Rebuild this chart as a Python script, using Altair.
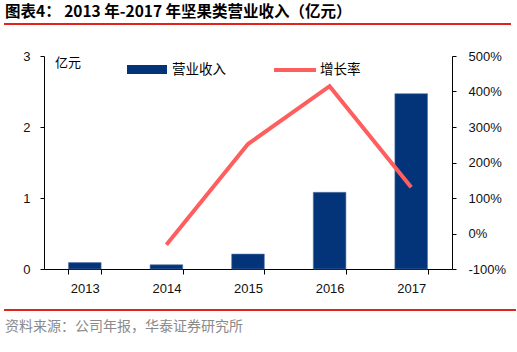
import altair as alt
import pandas as pd

years = ["2013", "2014", "2015", "2016", "2017"]
revenue = [0.09, 0.06, 0.21, 1.08, 2.47]
growth_years = ["2014", "2015", "2016", "2017"]
growth = [-32, 252, 415, 130]

title_text = "图表4：  2013 年-2017 年坚果类营业收入（亿元）"
source_text = "资料来源：公司年报，华泰证券研究所"
unit_text = "亿元"
legend_bar = "营业收入"
legend_line = "增长率"

BAR = "#033479"
LINE = "#FF5E5E"
RED = "#E2231A"
LAT = "Liberation Sans"
CJK = "Noto Sans CJK SC"

bars_df = pd.DataFrame({"year": years, "rev": revenue})
line_df = pd.DataFrame({"year": growth_years, "g": growth})
one = pd.DataFrame({"a": [0]})

xenc = alt.X("year:N", title=None, sort=years,
             scale=alt.Scale(paddingInner=0.6, paddingOuter=0.3),
             axis=alt.Axis(labelAngle=0, tickBand="extent", labelFont=LAT, labelFontSize=13,
                           labelColor="#111", domainColor="#000", tickColor="#000",
                           tickSize=5, labelPadding=8, grid=False))

bars = alt.Chart(bars_df).mark_bar(color=BAR, stroke="#5a77a6", strokeWidth=0.6).encode(
    x=xenc,
    y=alt.Y("rev:Q", title=None, scale=alt.Scale(domain=[0, 3], nice=False),
            axis=alt.Axis(values=[0, 1, 2, 3], format="d", labelFont=LAT, labelFontSize=13,
                          labelColor="#111", domainColor="#000", tickColor="#000", tickSize=4,
                          labelPadding=10, grid=False)),
)

line = alt.Chart(line_df).mark_line(color=LINE, strokeWidth=4).encode(
    x=alt.X("year:N", sort=years),
    y=alt.Y("g:Q", title=None, scale=alt.Scale(domain=[-100, 500], nice=False),
            axis=alt.Axis(orient="right", values=[-100, 0, 100, 200, 300, 400, 500],
                          labelExpr="datum.value + '%'", labelFont=LAT, labelFontSize=13,
                          labelColor="#111", domainColor="#000", tickColor="#000", tickSize=4,
                          labelPadding=12, grid=False)),
)

main = alt.layer(bars, line).resolve_scale(y="independent")

def txt(s, x, y, size, color="#000", weight="normal", font=CJK, baseline="middle"):
    return alt.Chart(one).mark_text(align="left", baseline=baseline, fontSize=size, color=color,
                                    fontWeight=weight, font=font).encode(
        x=alt.value(x), y=alt.value(y), text=alt.value(s))

def rule(x1, x2, y, color, w):
    return alt.Chart(one).mark_rule(color=color, strokeWidth=w).encode(
        x=alt.value(x1), x2=alt.value(x2), y=alt.value(y))

legend_rect = alt.Chart(one).mark_rect(color=BAR).encode(
    x=alt.value(83), x2=alt.value(123), y=alt.value(9), y2=alt.value(18))

deco = [
    txt(title_text, -39, -44, 15.5, weight="bold"),
    rule(-40, 467, -32, RED, 2),
    rule(-40, 472, 254, RED, 2),
    txt(source_text, -39, 271, 14, color="#8a8a8a"),
    txt(unit_text, 11, 7, 13),
    legend_rect,
    txt(legend_bar, 128, 14, 13.5),
    rule(230, 272, 14, LINE, 4),
    txt(legend_line, 276, 14, 13.5),
]

chart = alt.layer(main, *deco).properties(
    width=408, height=213,
    autosize=alt.AutoSizeParams(type="none"),
    padding={"left": 44, "top": 56, "right": 65, "bottom": 83},
    background="white",
).configure_view(stroke=None)

chart.save("out.html", embed_options={"renderer": "svg", "actions": False})
